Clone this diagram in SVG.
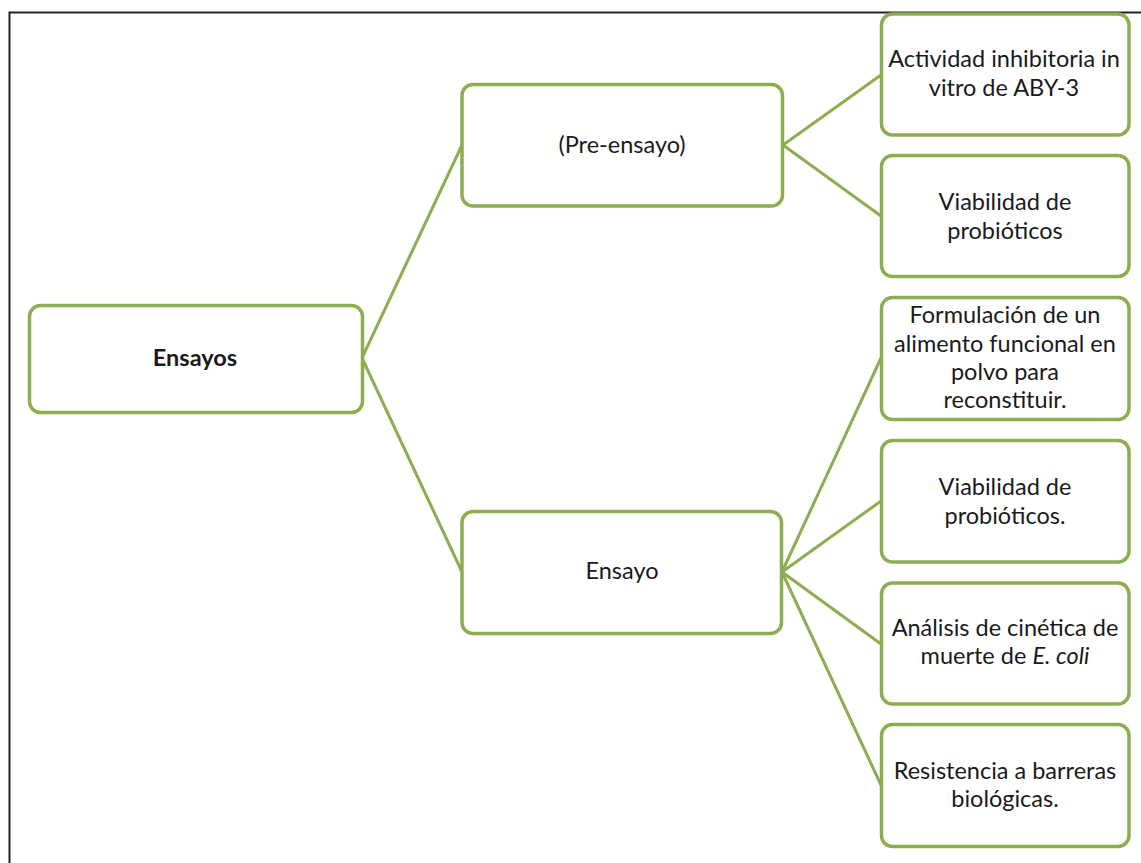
<svg xmlns="http://www.w3.org/2000/svg" width="1141" height="863" viewBox="0 0 1141 863">
<style>
.box{fill:#fff;stroke:#8cae51;stroke-width:3.5}
.con line{stroke:#8cae51;stroke-width:3}
text{font-family:"Lato","Liberation Sans",sans-serif;font-size:23.5px;fill:#1a1a1a;text-anchor:middle}
.b{font-weight:bold}
</style>
<rect width="1141" height="863" fill="#fff"/>
<path d="M9.5 863 V12.5 H1141" fill="none" stroke="#222" stroke-width="2"/>
<g class="con">
<line x1="362" y1="358" x2="462" y2="145"/>
<line x1="362" y1="358" x2="462" y2="572"/>
<line x1="783" y1="145" x2="881" y2="75"/>
<line x1="783" y1="145" x2="881" y2="216"/>
<line x1="782" y1="572" x2="881" y2="358"/>
<line x1="782" y1="572" x2="881" y2="501"/>
<line x1="782" y1="572" x2="881" y2="644"/>
<line x1="782" y1="572" x2="881" y2="785"/>
</g>
<g id="ensayos"><rect class="box" x="29.5" y="305.5" width="333" height="107" rx="11"/><text class="b" x="195" y="366">Ensayos</text></g>
<g id="preensayo"><rect class="box" x="462" y="84.5" width="320.5" height="121.5" rx="11"/><text x="622" y="153">(Pre-ensayo)</text></g>
<g id="ensayo"><rect class="box" x="462" y="511.5" width="319.5" height="122" rx="11"/><text x="622" y="579">Ensayo</text></g>
<g id="actividad"><rect class="box" x="881.5" y="14" width="247.5" height="121" rx="11"/><text x="1004" y="67">Actividad inhibitoria in</text><text x="1004" y="96">vitro de ABY-3</text></g>
<g id="viabilidad1"><rect class="box" x="881.5" y="155.5" width="247.5" height="121" rx="11"/><text x="1005" y="210">Viabilidad de</text><text x="1005" y="239">probióticos</text></g>
<g id="formulacion"><rect class="box" x="881.5" y="297.5" width="247.5" height="122" rx="11"/><text x="1005" y="323">Formulación de un</text><text x="1005" y="352">alimento funcional en</text><text x="1005" y="380">polvo para</text><text x="1005" y="408">reconstituir.</text></g>
<g id="viabilidad2"><rect class="box" x="881.5" y="440.5" width="247.5" height="121.5" rx="11"/><text x="1005" y="495">Viabilidad de</text><text x="1005" y="524">probióticos.</text></g>
<g id="analisis"><rect class="box" x="881.5" y="583" width="247.5" height="121" rx="11"/><text x="1005" y="636">Análisis de cinética de</text><text x="1005" y="664">muerte de <tspan font-style="italic">E. coli</tspan></text></g>
<g id="resistencia"><rect class="box" x="881.5" y="724.5" width="247.5" height="122" rx="11"/><text x="1005" y="779">Resistencia a barreras</text><text x="1005" y="807">biológicas.</text></g>
</svg>
